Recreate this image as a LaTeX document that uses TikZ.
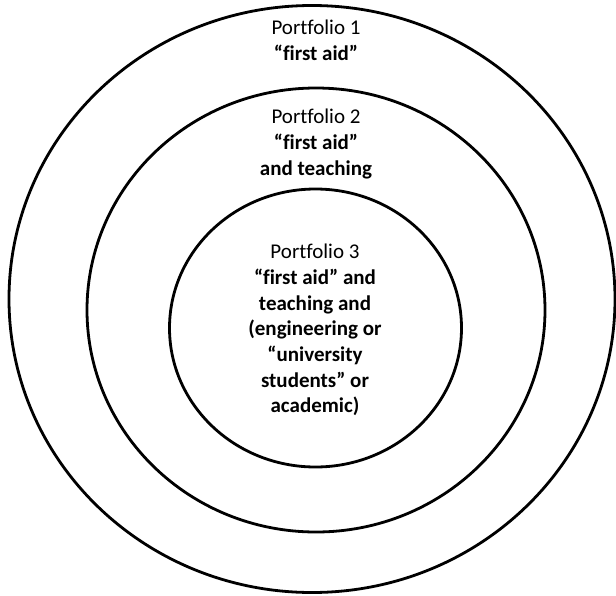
\documentclass[tikz,border=0pt]{standalone}
\usepackage{fontspec}
\setmainfont{Carlito}[Ligatures={NoCommon}]
\usetikzlibrary{shapes.geometric}
\begin{document}
\begin{tikzpicture}[x=1pt,y=-1pt,
  ring/.style={draw=black, line width=2.8pt, ellipse, inner sep=0pt},
  label/.style={align=center, text=black, inner sep=0pt, font=\fontsize{21}{25.7}\selectfont}]
\useasboundingbox (0,0) rectangle (616,595);
\node[ring, minimum width=606pt, minimum height=587pt] (outer) at (312,299) {};
\node[ring, minimum width=458pt, minimum height=444pt] (middle) at (316,310) {};
\node[ring, minimum width=292pt, minimum height=278pt] (inner) at (315.5,328) {};
\node[label] (t1) at (316,40.5) {Portfolio 1\\\textbf{“first aid”}};
\node[label] (t2) at (316,144) {Portfolio 2\\\textbf{“first aid”}\\\textbf{and teaching}};
\node[label] (t3) at (315,330) {Portfolio 3\\\textbf{“first aid” and}\\\textbf{teaching and}\\\textbf{(engineering or}\\\textbf{“university}\\\textbf{students” or}\\\textbf{academic)}};
\end{tikzpicture}
\end{document}
